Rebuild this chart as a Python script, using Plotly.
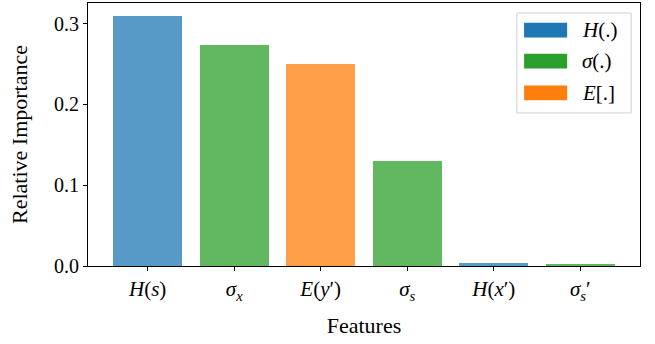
import plotly.graph_objects as go

# Feature importances
features = ["<i>H</i>(<i>s</i>)", "<i>σ<sub>x</sub></i>", "<i>E</i>(<i>y</i>′)",
            "<i>σ<sub>s</sub></i>", "<i>H</i>(<i>x</i>′)", "<i>σ<sub>s</sub></i>′"]
importance = [0.310, 0.274, 0.250, 0.130, 0.004, 0.003]
groups = ["H", "sigma", "E", "sigma", "H", "sigma"]

group_names = ["H", "sigma", "E"]
group_labels = ["<i>H</i>(.)", "<i>σ</i>(.)", "<i>E</i>[.]"]
group_colors = {"H": "#1f77b4", "sigma": "#2ca02c", "E": "#ff7f0e"}

FONT = "Liberation Serif"

positions = list(range(len(features)))

fig = go.Figure()
fig.add_trace(go.Bar(
    x=positions,
    y=importance,
    width=0.8,
    marker=dict(color=[group_colors[g] for g in groups], opacity=0.75, line=dict(width=0)),
    showlegend=False,
))

# Legend drawn as patches + labels inside the axes
leg_x0, leg_x1 = 0.777, 0.984
leg_y0, leg_y1 = 0.582, 0.962
fig.add_shape(type="rect", xref="paper", yref="paper",
              x0=leg_x0, x1=leg_x1, y0=leg_y0, y1=leg_y1,
              line=dict(color="#d0d0d0", width=1), fillcolor="rgba(255,255,255,0.8)")
row_centers = [0.897, 0.779, 0.658]
for name, label, yc in zip(group_names, group_labels, row_centers):
    fig.add_shape(type="rect", xref="paper", yref="paper",
                  x0=0.790, x1=0.868, y0=yc - 0.028, y1=yc + 0.028,
                  line=dict(width=0), fillcolor=group_colors[name])
    fig.add_annotation(xref="paper", yref="paper", x=0.891, y=yc,
                       text=label, showarrow=False, xanchor="left", yanchor="middle",
                       font=dict(family=FONT, size=21, color="black"))

fig.update_layout(
    width=655, height=344,
    margin=dict(l=88, r=15, t=3, b=78),
    plot_bgcolor="white", paper_bgcolor="white",
    font=dict(family=FONT, size=18, color="black"),
    bargap=0,
)
fig.update_xaxes(
    range=[-0.69, 5.69],
    tickvals=positions, ticktext=features,
    tickfont=dict(family=FONT, size=21),
    showline=True, mirror=True, linecolor="black", linewidth=1,
    ticks="outside", ticklen=4, tickcolor="black",
    showgrid=False, zeroline=False,
    title=dict(text="Features", standoff=14),
)
fig.update_yaxes(
    range=[0, 0.3255],
    tickvals=[0.0, 0.1, 0.2, 0.3], tickformat=".1f",
    tickfont=dict(family=FONT, size=20),
    showline=True, mirror=True, linecolor="black", linewidth=1,
    ticks="outside", ticklen=4, tickcolor="black",
    showgrid=False, zeroline=False,
    title=dict(text="Relative Importance", standoff=20),
)

fig.write_html("out.html")
